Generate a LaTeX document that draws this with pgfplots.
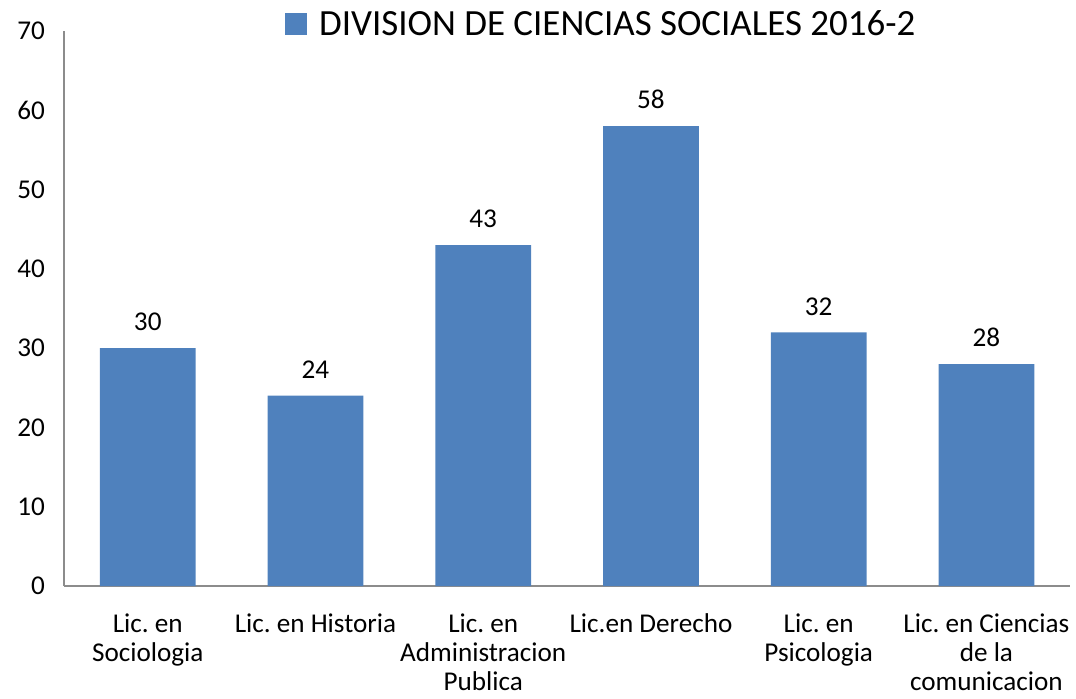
\documentclass[border=0pt]{standalone}
\usepackage{fontspec}
\setmainfont{Carlito}
\usepackage{pgfplots}
\pgfplotsset{compat=1.18}
\definecolor{barblue}{HTML}{4F81BD}
\definecolor{axisgray}{HTML}{8C8C8C}
\frenchspacing

\begin{document}
\begin{tikzpicture}
\begin{axis}[
    at={(0,0)}, anchor=south west,
    scale only axis,
    width=504pt, height=278pt,
    xmin=-0.5, xmax=5.5,
    ymin=0, ymax=70,
    ytick={0,10,...,70},
    xtick={0,...,5},
    xticklabels={{Lic. en\\Sociologia},{Lic. en Historia},{Lic. en\\Administracion\\Publica},{Lic.en Derecho},{Lic. en\\Psicologia},{Lic. en Ciencias\\de la\\comunicacion}},
    axis x line*=bottom,
    axis y line*=left,
    axis line style={draw=axisgray, line width=1pt, -},
    major tick length=0pt,
    /pgf/number format/assume math mode=true,
    tick label style={font=\fontsize{13.6}{14.5}\selectfont, black},
    xticklabel style={align=center, anchor=north, yshift=-10.5pt},
    yticklabel style={xshift=-6pt},
    ybar,
    bar width=48pt,
    nodes near coords,
    every node near coord/.append style={font=\fontsize{13.6}{14.5}\selectfont, black, yshift=5pt},
    legend style={draw=none, at={(0.535,1.012)}, anchor=center, font=\fontsize{18.5}{20}\selectfont, inner sep=0pt},
    legend image code/.code={\fill[#1] (0pt,-5.5pt) rectangle (11pt,5.5pt); \path (15pt,0pt);},
]
\addplot[fill=barblue, draw=none] coordinates {
    (0,30) (1,24) (2,43) (3,58) (4,32) (5,28)
};
\addlegendentry{DIVISION DE CIENCIAS SOCIALES 2016-2}
\end{axis}
\path[use as bounding box] (-32pt,-56.5pt) rectangle (506pt,293.5pt);
\end{tikzpicture}
\end{document}
